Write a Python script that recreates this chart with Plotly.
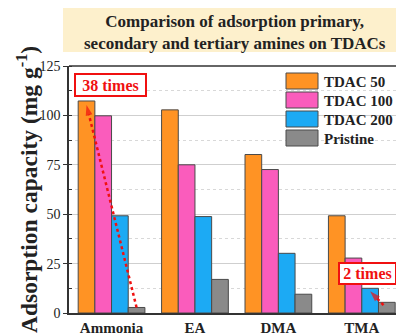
import plotly.graph_objects as go

# Adsorption capacity (mg g^-1) of each amine on the carbons
categories = ["Ammonia", "EA", "DMA", "TMA"]
series_names = ["TDAC 50", "TDAC 100", "TDAC 200", "Pristine"]
tdac50 = [107.3, 102.8, 80.2, 49.2]
tdac100 = [99.8, 75.0, 72.6, 27.8]
tdac200 = [49.2, 48.8, 30.2, 12.5]
pristine = [2.8, 17.0, 9.5, 5.4]
y_ticks = [0, 25, 50, 75, 100, 125]

series_values = [tdac50, tdac100, tdac200, pristine]
colors = ["#FF9324", "#FA5CBC", "#1CAAF4", "#8A8A8A"]

W, H = 396, 335
ML, MT, MR, MB = 69, 66, 0, 22
PW, PH = W - ML - MR, H - MT - MB


def px_x(x):
    return (x - ML) / PW


def px_y(y):
    return (H - MB - y) / PH


serif = "Liberation Serif"
RED = "#F01010"

fig = go.Figure()
for name, vals, col in zip(series_names, series_values, colors):
    fig.add_trace(go.Bar(
        x=list(range(len(categories))), y=vals, name=name,
        marker=dict(color=col, line=dict(color="#4a4a4a", width=1)),
        showlegend=False,
    ))

# bar centre offsets inside a group (4 bars, bargap 0.2)
offs = [-0.3, -0.1, 0.1, 0.3]


def ratio_arrow(x_tail, y_tail, x_head, y_head):
    fig.add_trace(go.Scatter(
        x=[x_tail, x_head], y=[y_tail, y_head], mode="lines+markers",
        line=dict(color=RED, width=2.5, dash="dot"),
        marker=dict(symbol="arrow", size=[0, 11], angleref="previous", color=RED,
                    line=dict(width=0)),
        showlegend=False, hoverinfo="skip", cliponaxis=False,
    ))


# pristine -> TDAC 50 on ammonia, pristine -> TDAC 200 on TMA
ratio_arrow(0 + offs[3], pristine[0], 0 + offs[0], tdac50[0] - 2)
ratio_arrow(3 + offs[3] - 0.04, pristine[3] - 1.4, 3 + offs[2], tdac200[3] - 1.5)

shapes = []
annotations = []

# title banner
shapes.append(dict(type="rect", xref="paper", yref="paper",
                   x0=px_x(63), x1=1.0, y0=px_y(52), y1=px_y(8),
                   fillcolor="#FDF0CC", line=dict(width=0), layer="above"))
annotations.append(dict(
    xref="paper", yref="paper", x=px_x(235), y=px_y(32),
    text="<b>Comparison of adsorption primary,<br>secondary and tertiary amines on TDACs</b>",
    showarrow=False, font=dict(family=serif, size=17, color="#222"),
    xanchor="center", yanchor="middle"))

# top frame line
shapes.append(dict(type="line", xref="paper", yref="paper", x0=0, x1=1, y0=1, y1=1,
                   line=dict(color="#333", width=1.5), layer="above"))

# legend panel
shapes.append(dict(type="rect", xref="paper", yref="paper",
                   x0=px_x(282), x1=1.0, y0=px_y(150), y1=px_y(67.5),
                   fillcolor="white", line=dict(width=0), layer="between"))
for i, (name, col) in enumerate(zip(series_names, colors)):
    top = 73 + 19 * i
    shapes.append(dict(type="rect", xref="paper", yref="paper",
                       x0=px_x(286), x1=px_x(318), y0=px_y(top + 16), y1=px_y(top),
                       fillcolor=col, line=dict(color="#4a4a4a", width=1), layer="above"))
    annotations.append(dict(xref="paper", yref="paper", x=px_x(322), y=px_y(top + 8.5),
                            text=f"<b>{name}</b>", showarrow=False,
                            font=dict(family=serif, size=15, color="#222"),
                            xanchor="left", yanchor="middle"))

annotations.append(dict(xref="paper", yref="paper", x=px_x(110.5), y=px_y(85),
                        text="<b>38 times</b>", showarrow=False,
                        font=dict(family=serif, size=16, color=RED),
                        bgcolor="white", bordercolor=RED, borderwidth=2, borderpad=0,
                        width=69, height=20, xanchor="center", yanchor="middle"))
annotations.append(dict(xref="paper", yref="paper", x=px_x(367), y=px_y(273.5),
                        text="<b>2 times</b>", showarrow=False,
                        font=dict(family=serif, size=16, color=RED),
                        bgcolor="white", bordercolor=RED, borderwidth=2, borderpad=0,
                        width=55, height=19, xanchor="center", yanchor="middle"))

# y axis title
annotations.append(dict(xref="paper", yref="paper", x=px_x(26.5), y=0.5,
                        text="<b>Adsorption capacity (mg g<sup>-1</sup>)</b>",
                        textangle=-90, showarrow=False,
                        font=dict(family=serif, size=23.5, color="#222"),
                        xanchor="center", yanchor="middle"))

fig.update_layout(
    width=W, height=H,
    margin=dict(l=ML, r=MR, t=MT, b=MB, pad=0),
    paper_bgcolor="white", plot_bgcolor="white",
    barmode="group", bargap=0.2, bargroupgap=0,
    shapes=shapes, annotations=annotations,
    xaxis=dict(
        range=[-0.51, 3.41], tickmode="array",
        tickvals=list(range(len(categories))), ticktext=categories,
        tickfont=dict(family=serif, size=15, color="#222", weight="bold"),
        showline=True, linecolor="#333", linewidth=1.5, ticks="", showgrid=False,
        zeroline=False, fixedrange=True,
    ),
    yaxis=dict(
        range=[0, 125], tickmode="array", tickvals=y_ticks,
        tickfont=dict(family=serif, size=14, color="#222"),
        showline=True, linecolor="#333", linewidth=1.5,
        ticks="outside", ticklen=4, tickcolor="#333",
        showgrid=True, gridcolor="#CFCFCF", gridwidth=1, zeroline=False,
        minor=dict(dtick=12.5, tick0=0, showgrid=True, gridcolor="#D8D8D8",
                   griddash="dot", gridwidth=1, ticks="inside", ticklen=3, tickcolor="#333"),
    ),
)

fig.write_html("out.html")
